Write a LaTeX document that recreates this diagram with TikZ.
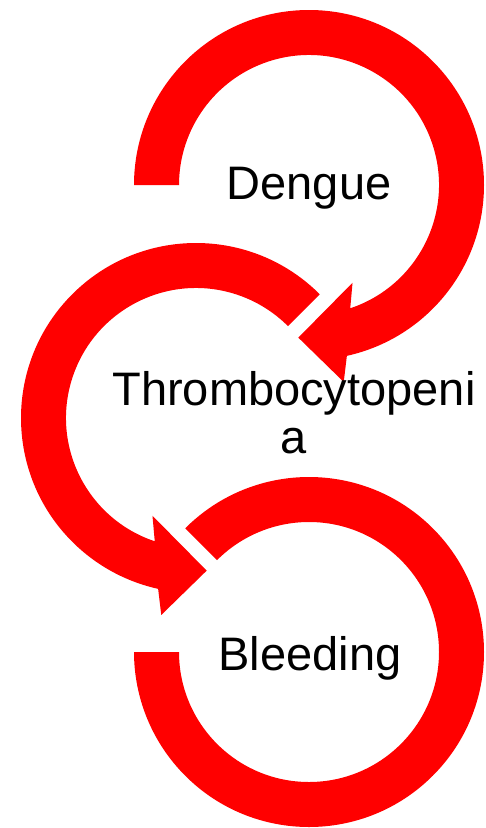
\documentclass[tikz,border=0pt]{standalone}
\usepackage{fontspec}
\setmainfont{Liberation Sans}
\usetikzlibrary{positioning}
\begin{document}
\begin{tikzpicture}[x=1pt,y=1pt,ring/.style={fill=red,draw=none},
  lbl/.style={font=\fontsize{47}{48}\selectfont,inner sep=0pt,align=center}]
\useasboundingbox (0,0) rectangle (486,-828);
\coordinate (dengueC) at (309,-185);
\coordinate (thromboC) at (196,-418);
\coordinate (bleedC) at (309,-652);
% circular arrows
\fill[ring,shift={(dengueC)}] (180:175) arc[start angle=180,end angle=-77.5,radius=175]
  -- (-80:200) -- (-94:153) -- (-66:107) -- (-71.5:130)
  arc[start angle=-71.5,end angle=180,radius=130] -- cycle;
\fill[ring,shift={(thromboC)}] (45:175) arc[start angle=45,end angle=257.5,radius=175]
  -- (260:200) -- (274:153) -- (246:107) -- (251.5:130)
  arc[start angle=251.5,end angle=45,radius=130] -- cycle;
\fill[ring,shift={(bleedC)}] (135:175) arc[start angle=135,end angle=-180,radius=175]
  -- (180:130) arc[start angle=-180,end angle=135,radius=130] -- cycle;
% labels
\node[lbl,anchor=base] (dengue) at (309,-199) {Dengue};
\node[lbl,anchor=base] (thrombo) at (294,-453) {Thrombocytopeni\\a};
\node[lbl,anchor=base] (bleed) at (310,-670) {Bleeding};
\end{tikzpicture}
\end{document}
